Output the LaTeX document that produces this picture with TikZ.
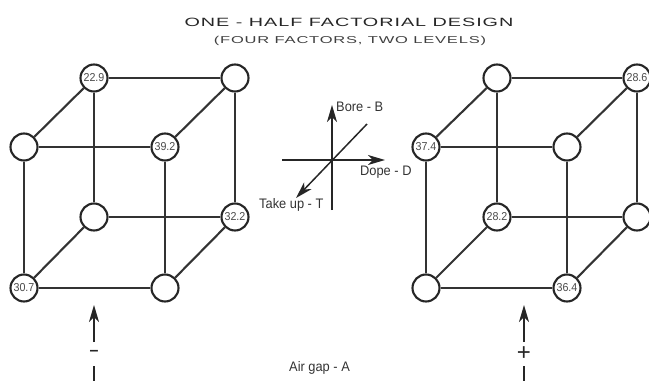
\documentclass[tikz,border=0pt]{standalone}
\usepackage{fontspec}
\usetikzlibrary{arrows.meta}
\setmainfont{Liberation Sans}
\newfontfamily\titlefont[FakeStretch=1.65,LetterSpace=8]{Liberation Sans}
\newfontfamily\narrowfont[FakeStretch=0.93]{Liberation Sans}
\tikzset{
  vert/.style={circle,draw=black!85,line width=2.1pt,fill=white,minimum size=27pt,inner sep=0pt,font=\fontsize{11.5}{12}\narrowfont,text=black!70},
  edge/.style={draw=black!80,line width=2.1pt},
  axis/.style={draw=black!85,line width=1.5pt},
  tip/.style={-{Stealth[length=17pt,width=10pt,inset=5pt]}},
  lab/.style={inner sep=0pt,font=\fontsize{13.8}{14}\narrowfont,text=black!80}
}
\begin{document}
\begin{tikzpicture}[x=1pt,y=-1pt]
\useasboundingbox (0,0) rectangle (649,381);
\foreach \n/\x/\y/\t in {a/94/78/22.9,b/235/78/,c/24/147/,d/165/147/39.2,e/94/217/,f/235/217/32.2,g/24/288/30.7,h/165/288/,
  p/497/78/,q/637/78/28.6,r/426/147/37.4,s/567/147/,t/497/217/28.2,u/637/217/,v/426/288/,w/567/288/36.4}
  \node[vert] (\n) at (\x,\y) {\t};
\foreach \i/\j in {a/b,a/c,b/d,c/d,a/e,b/f,c/g,d/h,e/f,e/g,f/h,g/h,
  p/q,p/r,q/s,r/s,p/t,q/u,r/v,s/w,t/u,t/v,u/w,v/w}
  \draw[edge] (\i) -- (\j);
\node[inner sep=0pt,font=\fontsize{12}{12}\titlefont,text=black!85] (t1) at (349,22) {ONE - HALF FACTORIAL DESIGN};
\node[inner sep=0pt,font=\fontsize{10}{12}\titlefont,text=black!75] (t2) at (350,41) {(FOUR FACTORS, TWO LEVELS)};
\coordinate (dl) at (282,160);
\coordinate (dr) at (385,160);
\coordinate (bb) at (332,105);
\coordinate (bt) at (332,210);
\coordinate (tu) at (296,198);
\coordinate (tv) at (367,124);
\draw[axis,tip] (dl) -- (dr);
\draw[axis,tip] (bt) -- (bb);
\draw[axis,tip] (tv) -- (tu);
\node[lab,anchor=west] (lb) at (336,107) {Bore - B};
\node[lab,anchor=west] (ld) at (360,172) {Dope - D};
\node[lab,anchor=west] (lt) at (259,205) {Take up - T};
\node[lab,anchor=west] (la) at (289,368) {Air gap - A};
\coordinate (m1) at (94,305);
\coordinate (m2) at (94,342);
\draw[axis,tip] (m2) -- (m1);
\coordinate (m3) at (94,366);
\coordinate (m4) at (94,381);
\draw[axis] (m3) -- (m4);
\node[inner sep=0pt,font=\fontsize{16}{16}\selectfont\bfseries,text=black!85] (mm) at (94,353) {–};
\coordinate (n1) at (524,305);
\coordinate (n2) at (524,342);
\draw[axis,tip] (n2) -- (n1);
\coordinate (n3) at (524,366);
\coordinate (n4) at (524,381);
\draw[axis] (n3) -- (n4);
\node[inner sep=0pt,font=\fontsize{24}{24}\selectfont,text=black!85] (pp) at (524,354) {+};
\end{tikzpicture}
\end{document}
